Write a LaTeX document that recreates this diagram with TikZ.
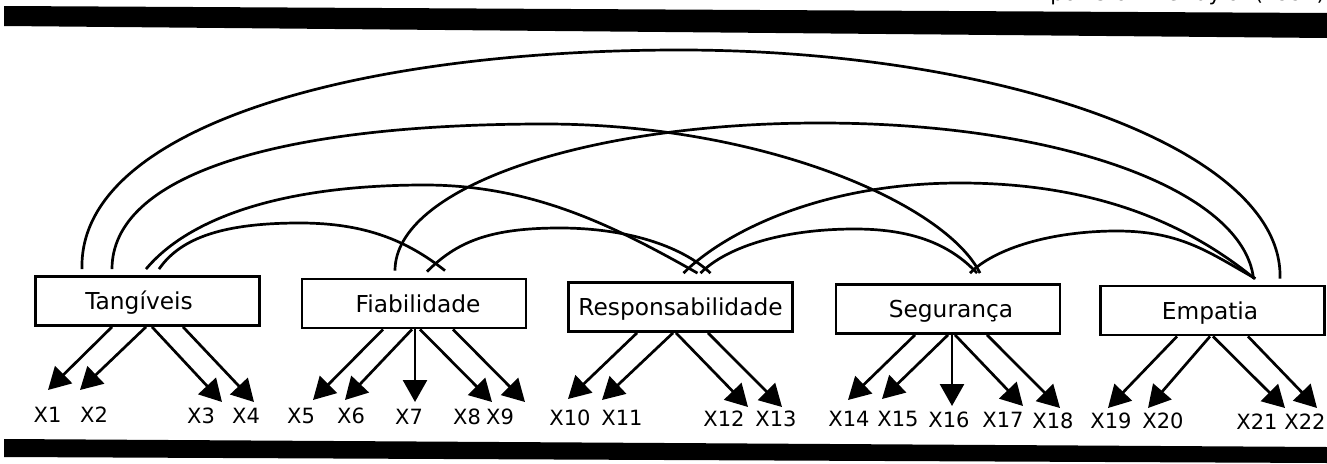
\documentclass[tikz,border=0pt]{standalone}
\usepackage{fontspec}
\setmainfont{DejaVu Sans}
\usetikzlibrary{arrows.meta,calc}
\begin{document}
\begin{tikzpicture}[x=1pt,y=-1pt,
  factor/.style={draw,line width=2.8pt,minimum width=224pt,minimum height=49pt,
    inner sep=0pt,text height=17pt,text depth=0pt,font=\fontsize{23.3}{28}\selectfont},
  item/.style={inner sep=0pt,text height=15pt,text depth=0pt,font=\fontsize{21}{25}\selectfont},
  load/.style={line width=2.7pt,-{Triangle[length=22pt,width=24pt]}},
  cov/.style={line width=2.7pt},
  band/.style={fill=black}]
\useasboundingbox (0,0) rectangle (1327,463);
\clip (0,0) rectangle (1327,463);

% page rules and running head
\fill[band] (4,6) -- (1327,13) -- (1327,38) -- (4,26) -- cycle;
\fill[band] (4,439) -- (1327,447) -- (1327,463) -- (4,457) -- cycle;
\node[anchor=base east,inner sep=0pt,font=\fontsize{21}{25}\selectfont] (head) at (1325,1) {por Cronin e Taylor (1992)};

% latent dimensions
\node[factor] (tang) at (147.5,301) {\hspace*{-17pt}Tangíveis};
\node[factor] (fiab) at (414,303.5) {\hspace*{8pt}Fiabilidade};
\node[factor] (resp) at (680.5,307) {Responsabilidade};
\node[factor] (seg)  at (948,309) {\hspace*{6pt}Segurança};
\node[factor] (emp)  at (1212.5,310.5) {\hspace*{-5pt}Empatia};

% observed items
\foreach \n/\x/\y in {1/47.5/415, 2/94/415, 3/201/416, 4/246/416, 5/301/416, 6/351/416,
  7/409/417, 8/467/417, 9/500/417, 10/570/418, 11/622/418, 12/724/419, 13/776/419,
  14/849/419, 15/898/419, 16/949/420, 17/1003/420, 18/1053/421, 19/1111/421,
  20/1163/421, 21/1257/422, 22/1305/422}
  \node[item] (x\n) at (\x,\y) {X\n};

% arrow tips above the items
\foreach \n/\x/\y in {1/48/390, 2/80/390, 3/222/402, 4/254/402, 5/313/400, 6/345/400,
  7/415/402, 8/492/402, 9/525/402, 10/568/399, 11/602/400, 12/748/407, 13/782/407,
  14/848/400, 15/882/399, 16/952/406, 17/1023/406, 18/1060/408, 19/1108/408,
  20/1148/408, 21/1285/408, 22/1317/408}
  \coordinate (tip\n) at (\x,\y);

% loadings
\draw[load] ($(tang.south)+(-35.5,0)$) -- (tip1);
\draw[load] ($(tang.south)+(-1.5,0)$) -- (tip2);
\draw[load] ($(tang.south)+(4.5,0)$) -- (tip3);
\draw[load] ($(tang.south)+(35.5,0)$) -- (tip4);
\draw[load] ($(fiab.south)+(-31,0)$) -- (tip5);
\draw[load] ($(fiab.south)+(-2,0)$) -- (tip6);
\draw[load] ($(fiab.south)+(1,0)$) -- (tip7);
\draw[load] ($(fiab.south)+(6,0)$) -- (tip8);
\draw[load] ($(fiab.south)+(39,0)$) -- (tip9);
\draw[load] ($(resp.south)+(-43.5,0)$) -- (tip10);
\draw[load] ($(resp.south)+(-7.5,0)$) -- (tip11);
\draw[load] ($(resp.south)+(-4.5,0)$) -- (tip12);
\draw[load] ($(resp.south)+(27.5,0)$) -- (tip13);
\draw[load] ($(seg.south)+(-33,0)$) -- (tip14);
\draw[load] ($(seg.south)+(0,0)$) -- (tip15);
\draw[load] ($(seg.south)+(4,0)$) -- (tip16);
\draw[load] ($(seg.south)+(7,0)$) -- (tip17);
\draw[load] ($(seg.south)+(39,0)$) -- (tip18);
\draw[load] ($(emp.south)+(-35.5,0)$) -- (tip19);
\draw[load] ($(emp.south)+(-2.5,0)$) -- (tip20);
\draw[load] ($(emp.south)+(0.5,0)$) -- (tip21);
\draw[load] ($(emp.south)+(35.5,0)$) -- (tip22);

% arc end points on the boxes
\coordinate (tE) at ($(tang.north)+(-65.5,-6)$);
\coordinate (tS) at ($(tang.north)+(-35.5,-6)$);
\coordinate (tR) at ($(tang.north)+(-1.5,-6)$);
\coordinate (tF) at ($(tang.north)+(11.5,-6)$);
\coordinate (fE) at ($(fiab.north)+(-19,-7)$);
\coordinate (fR) at ($(fiab.north)+(13,-6)$);
\coordinate (fT) at ($(fiab.north)+(31,-7)$);
\coordinate (rE) at ($(resp.north)+(3,-8)$);
\coordinate (rT) at ($(resp.north)+(17,-8)$);
\coordinate (rS) at ($(resp.north)+(20,-8)$);
\coordinate (rF) at ($(resp.north)+(30,-8)$);
\coordinate (sE) at ($(seg.north)+(22,-10)$);
\coordinate (sR) at ($(seg.north)+(29,-10)$);
\coordinate (sT) at ($(seg.north)+(32,-10)$);
\coordinate (eF) at ($(emp.north)+(41,-6)$);
\coordinate (eR) at ($(emp.north)+(42,-6)$);
\coordinate (eS) at ($(emp.north)+(43,-6)$);
\coordinate (eT) at ($(emp.north)+(67.5,-6)$);

% crests of the arcs
\coordinate (pk1) at (680,50);
\coordinate (pk2) at (545,124);
\coordinate (pk3) at (820,123);
\coordinate (pk4) at (425,185);
\coordinate (pk5) at (300,223);
\coordinate (pk6) at (560,228);
\coordinate (pk7) at (960,183);
\coordinate (pk8) at (855,229);
\coordinate (pk9) at (1117,231);

% correlations between dimensions
\draw[cov] (tE) .. controls +(-4,-140) and +(-330,0) .. (pk1) .. controls +(320,0) and +(4,-130) .. (eT);
\draw[cov] (tS) .. controls +(0,-94) and +(-268,0) .. (pk2) .. controls +(217,0) and +(-35,-70) .. (sT);
\draw[cov] (fE) .. controls +(0,-82) and +(-238,0) .. (pk3) .. controls +(244,0) and +(-10,-87) .. (eF);
\draw[cov] (tR) .. controls +(40,-48) and +(-150,0) .. (pk4) .. controls +(110,0) and +(-80,-45) .. (rT);
\draw[cov] (tF) .. controls +(22,-32) and +(-75,0) .. (pk5) .. controls +(65,0) and +(-38,-30) .. (fT);
\draw[cov] (fR) .. controls +(30,-30) and +(-70,0) .. (pk6) .. controls +(65,0) and +(-30,-28) .. (rF);
\draw[cov] (rE) .. controls +(40,-40) and +(-140,0) .. (pk7) .. controls +(150,0) and +(-55,-45) .. (eR);
\draw[cov] (rS) .. controls +(25,-25) and +(-75,0) .. (pk8) .. controls +(55,0) and +(-28,-30) .. (sR);
\draw[cov] (sE) .. controls +(25,-25) and +(-65,0) .. (pk9) .. controls +(65,0) and +(-45,-25) .. (eS);
\end{tikzpicture}
\end{document}
